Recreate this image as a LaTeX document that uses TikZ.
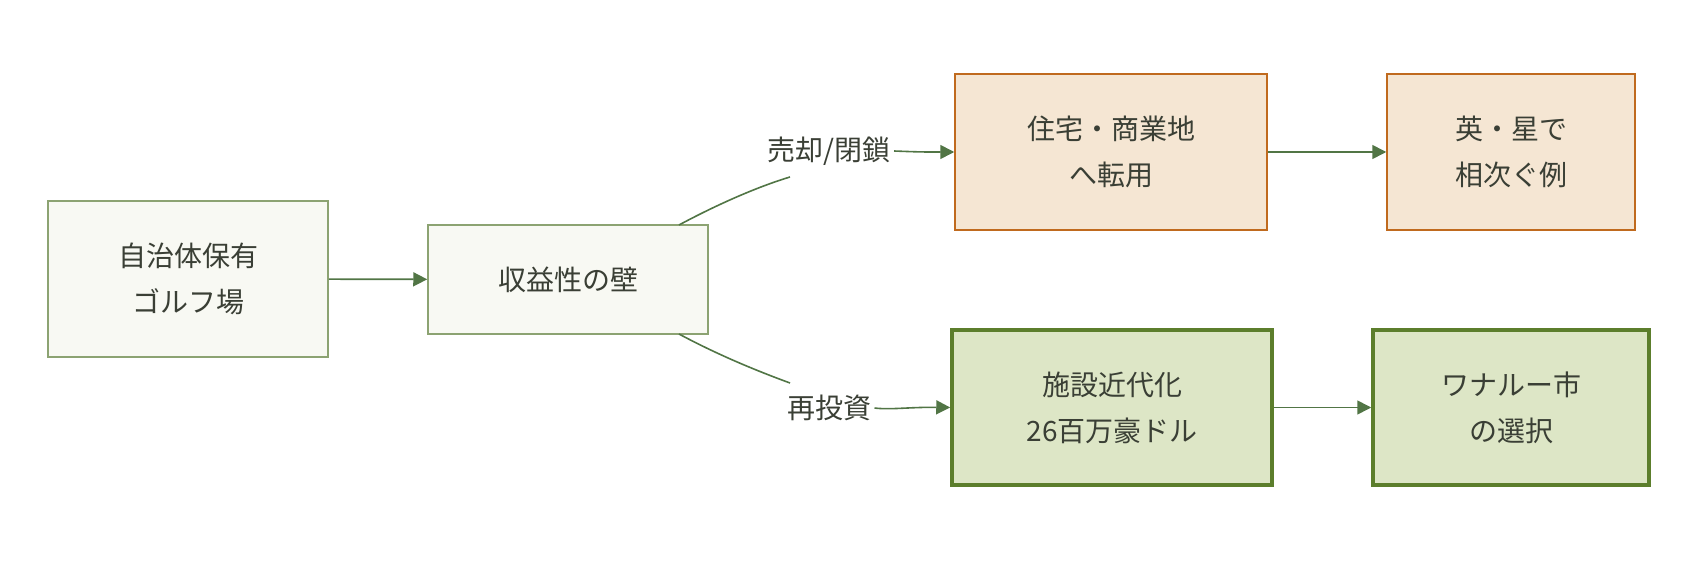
\documentclass[tikz,border=0pt]{standalone}
\usepackage{fontspec}
\setmainfont{Noto Sans CJK JP}
\usetikzlibrary{arrows.meta}
\definecolor{txt}{HTML}{3A3F35}
\definecolor{lfill}{HTML}{F8F9F3}
\definecolor{ldraw}{HTML}{8CA372}
\definecolor{ofill}{HTML}{F5E6D3}
\definecolor{odraw}{HTML}{C06A1E}
\definecolor{gfill}{HTML}{DDE6C6}
\definecolor{gdraw}{HTML}{5C7E2C}
\definecolor{arr}{HTML}{517545}
\begin{document}
\begin{tikzpicture}[x=1pt,y=-1pt,
  every node/.style={font=\fontsize{28}{46}\selectfont,text=txt,align=center},
  box/.style={draw,line width=1.5pt,inner sep=0pt},
  lbox/.style={box,fill=lfill,draw=ldraw},
  obox/.style={box,fill=ofill,draw=odraw},
  gbox/.style={box,fill=gfill,draw=gdraw,line width=3.5pt},
  con/.style={draw=arr,line width=1.6pt},
  ar/.style={con,-{Triangle[length=14pt,width=14pt]}}]
\useasboundingbox (0,0) rectangle (1698,564);
\node[lbox,minimum width=280,minimum height=156] (a) at (188,279) {自治体保有\\ゴルフ場};
\node[lbox,minimum width=280,minimum height=109] (b) at (568,279.5) {収益性の壁};
\node[obox,minimum width=312,minimum height=156] (c) at (1111,152) {住宅・商業地\\へ転用};
\node[obox,minimum width=248,minimum height=156] (d) at (1511,152) {英・星で\\相次ぐ例};
\node[gbox,minimum width=320,minimum height=155] (e) at (1112,407.5) {施設近代化\\26百万豪ドル};
\node[gbox,minimum width=276,minimum height=155] (f) at (1511,407.5) {ワナルー市\\の選択};
\node (l1) at (829,151) {売却/閉鎖};
\node (l2) at (829,408) {再投資};
\coordinate (b1) at (679,225);
\coordinate (b2) at (679,334);
\coordinate (l1e) at (790,177);
\coordinate (l2e) at (790,383);
\draw[ar] (a) -- (b);
\draw[con] (b1) .. controls (720,203) and (760,186) .. (l1e);
\draw[con] (b2) .. controls (720,356) and (760,372) .. (l2e);
\draw[ar] (l1.east) .. controls (920,152) .. (c.west);
\draw[ar] (l2.east) .. controls (890,410) and (910,407) .. (e.west);
\draw[ar] (c) -- (d);
\draw[ar] (e) -- (f);
\end{tikzpicture}
\end{document}
